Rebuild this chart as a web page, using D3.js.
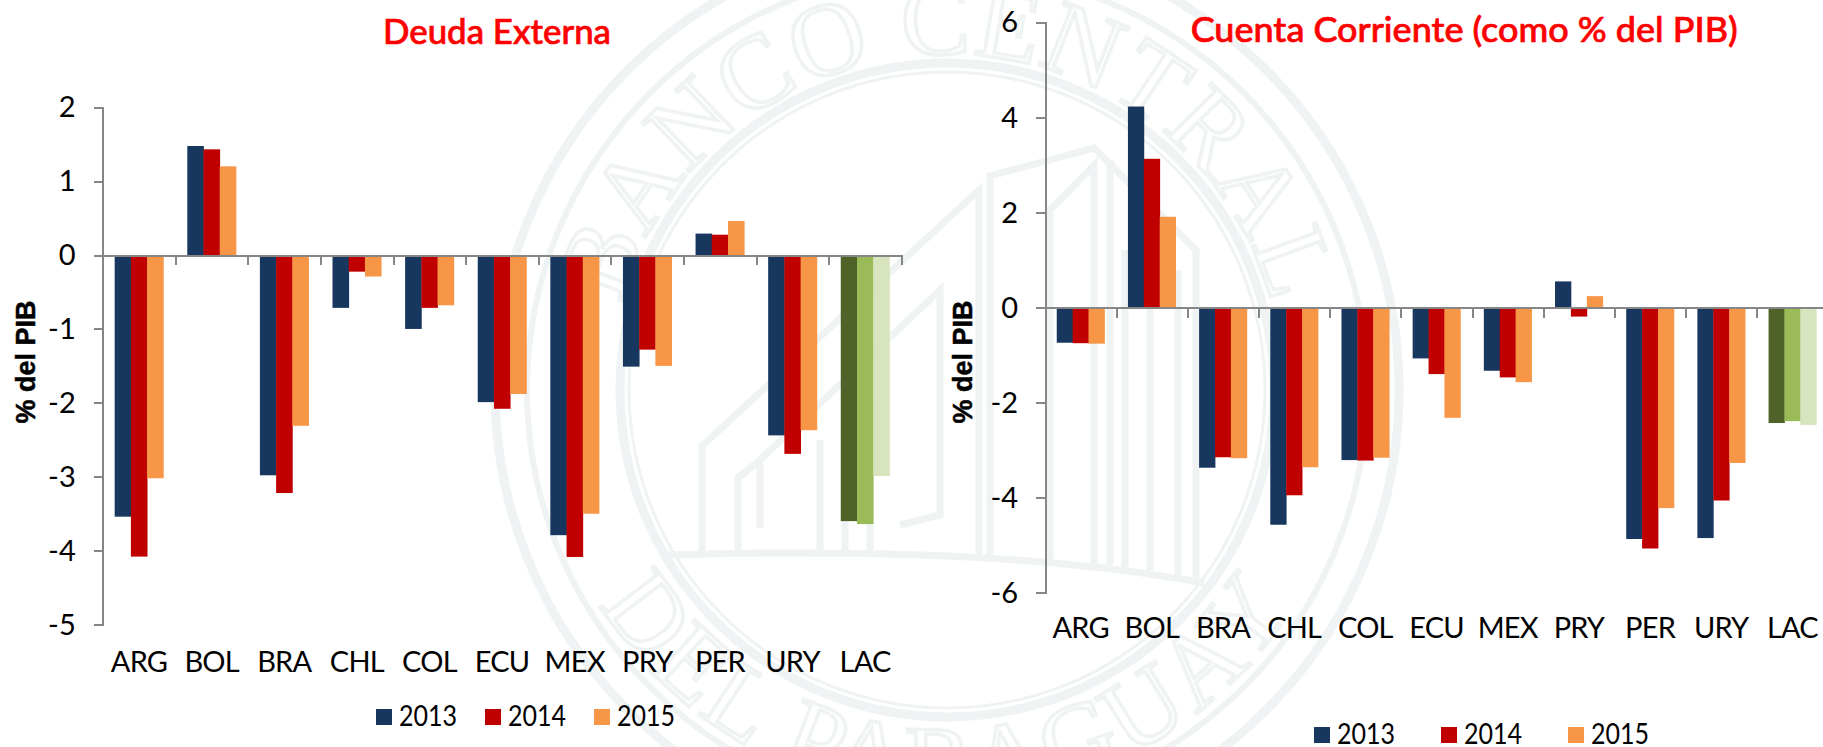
<!DOCTYPE html>
<html><head><meta charset="utf-8">
<script src="https://cdn.jsdelivr.net/npm/d3@7/dist/d3.min.js"></script>
<style>
html,body{margin:0;padding:0;background:#fff;overflow:hidden}
svg{display:block}
text{font-family:Lato,"Open Sans",sans-serif;fill:#000}
.domain,.tick line{stroke:#868686;stroke-width:2;fill:none;shape-rendering:crispEdges}
</style></head><body>
<svg id="c" width="1823" height="747"></svg>
<script>
const categories = ["ARG","BOL","BRA","CHL","COL","ECU","MEX","PRY","PER","URY","LAC"];
const years = ["2013","2014","2015"];
const yearColors = ["#17375e","#c00000","#f79646"];
const lacColors = ["#4f6228","#9bbb59","#d7e4bd"];

const deuda2013 = [-3.54,1.475,-2.98,-0.715,-1.0,-1.99,-3.79,-1.51,0.29,-2.44,-3.6];
const deuda2014 = [-4.08,1.43,-3.22,-0.225,-0.715,-2.08,-4.085,-1.28,0.275,-2.69,-3.64];
const deuda2015 = [-3.02,1.2,-2.31,-0.29,-0.68,-1.88,-3.5,-1.5,0.46,-2.37,-2.99];

const cuenta2013 = [-0.74,4.23,-3.37,-4.57,-3.21,-1.07,-1.33,0.55,-4.87,-4.85,-2.43];
const cuenta2014 = [-0.75,3.13,-3.15,-3.95,-3.22,-1.40,-1.47,-0.19,-5.07,-4.06,-2.39];
const cuenta2015 = [-0.76,1.91,-3.17,-3.36,-3.16,-2.32,-1.57,0.24,-4.22,-3.27,-2.47];

const deudaTicks = [-5,-4,-3,-2,-1,0,1,2];
const cuentaTicks = [-6,-4,-2,0,2,4,6];

const svg = d3.select("#c");

/* ---------- watermark (seal) ---------- */
const wm = "#eff3f3";
const seal = svg.append("g").attr("fill","none").attr("stroke",wm);
const cx = 947, cy = 390;
[[452,9],[420,6],[327,9],[318,3]].forEach(([r,w])=>seal.append("circle").attr("cx",cx).attr("cy",cy).attr("r",r).attr("stroke-width",w));
const defs = svg.append("defs");
defs.append("path").attr("id","arcTop").attr("d",`M ${cx-336} ${cy} A 336 336 0 0 1 ${cx+336} ${cy}`);
defs.append("path").attr("id","arcBot").attr("d",`M ${cx-408} ${cy} A 408 408 0 0 0 ${cx+408} ${cy}`);
const wmText = svg.append("g");
[["#arcTop","BANCO CENTRAL",1],["#arcBot","DEL PARAGUAY",4]].forEach(([h,t,ls])=>{
  wmText.append("text").style("font-family","'Liberation Serif',serif").style("font-size","104px")
    .style("fill","none").attr("stroke",wm).attr("stroke-width",3.5)
    .append("textPath").attr("href",h).attr("startOffset","50%").attr("text-anchor","middle").attr("letter-spacing",ls).text(t);
});
const building = [
 "M669 555 Q1000 545 1204 583",
 "M702 555 L702 446 L979 190 L979 555",
 "M738 555 L738 478 L760 460 L760 528",
 "M760 460 L940 290 L940 515 L900 525",
 "M820 555 L820 440 M845 555 L845 420 M870 555 L870 400",
 "M990 555 L990 176 L1094 148 L1196 250 L1196 578",
 "M1050 560 L1050 210 L1094 165 L1094 570",
 "M1110 565 L1110 160 M1150 570 L1150 210",
 "M1125 250 L1125 570 M1178 270 L1178 575"
];
seal.selectAll("path.b").data(building).join("path").attr("class","b").attr("d",d=>d).attr("stroke-width",7);

/* ---------- charts ---------- */
function chart(cfg){
  const g = svg.append("g");
  const y = d3.scaleLinear().domain(cfg.yDomain).range(cfg.yRange);
  const x = d3.scaleBand().domain(categories).range(cfg.xRange).paddingInner(0.33).paddingOuter(0.165);
  const x1 = d3.scaleBand().domain(years).range([0,x.bandwidth()]);
  const edges = d3.scaleLinear().domain([0,categories.length]).range(cfg.xRange);

  years.forEach((yr,i)=>{
    g.append("g").selectAll("rect").data(cfg.series[i]).join("rect")
      .attr("x",(d,j)=>x(categories[j])+x1(yr))
      .attr("width",x1.bandwidth()+0.4)
      .attr("y",d=>Math.min(y(d),y(0)))
      .attr("height",d=>Math.abs(y(d)-y(0)))
      .attr("fill",(d,j)=>categories[j]==="LAC"?lacColors[i]:yearColors[i]);
  });

  g.append("g").attr("transform",`translate(${cfg.xRange[0]},0)`)
    .call(d3.axisLeft(y).tickValues(cfg.ticks).tickSize(9).tickPadding(18).tickFormat(d=>String(d)))
    .call(a=>a.selectAll("text").style("font-size","29px").attr("dy","0.33em"));

  g.append("g").attr("transform",`translate(0,${y(0)})`)
    .call(d3.axisBottom(edges).tickValues(d3.range(categories.length+1)).tickSize(10).tickSizeOuter(0).tickFormat(""));

  g.append("g").attr("transform",`translate(0,${cfg.labelY})`)
    .call(d3.axisBottom(x).tickSize(0).tickPadding(0))
    .call(a=>a.select(".domain").remove())
    .call(a=>a.selectAll("text").attr("dy",0).attr("y",0).style("font-size","29px").style("letter-spacing","-0.8px"));

  g.append("text").attr("x",cfg.titleX).attr("y",cfg.titleY)
    .attr("textLength",cfg.titleLen).attr("lengthAdjust","spacingAndGlyphs")
    .attr("stroke","#ff0000").attr("stroke-width",0.7)
    .style("font-size","35px").style("font-weight",500).style("fill","#ff0000").text(cfg.title);

  g.append("text").attr("transform",`translate(${cfg.yTitleX},362) rotate(-90)`).attr("text-anchor","middle")
    .attr("stroke","#000").attr("stroke-width",0.5)
    .style("font-family","'Liberation Sans',Arial,sans-serif").style("font-weight",700).style("font-size","27px").text("% del PIB");

  years.forEach((yr,i)=>{
    g.append("rect").attr("x",cfg.swX[i]).attr("y",cfg.legendY-17).attr("width",16).attr("height",16).attr("fill",yearColors[i]);
    g.append("text").attr("x",cfg.swX[i]+23).attr("y",cfg.legendY).attr("textLength",58).attr("lengthAdjust","spacingAndGlyphs").style("font-size","29px").text(yr);
  });
}

chart({title:"Deuda Externa",titleX:383,titleY:44,titleLen:228,
  series:[deuda2013,deuda2014,deuda2015],ticks:deudaTicks,
  yDomain:[-5,2],yRange:[624.6,107.2],xRange:[102.7,901.4],
  labelY:672,yTitleX:35,swX:[376,485,594],legendY:726});

chart({title:"Cuenta Corriente (como % del PIB)",titleX:1190.7,titleY:42,titleLen:547,
  series:[cuenta2013,cuenta2014,cuenta2015],ticks:cuentaTicks,
  yDomain:[-6,6],yRange:[592.7,22.4],xRange:[1045,1828],
  labelY:638,yTitleX:972,swX:[1314,1441,1568],legendY:744});
</script></body></html>
